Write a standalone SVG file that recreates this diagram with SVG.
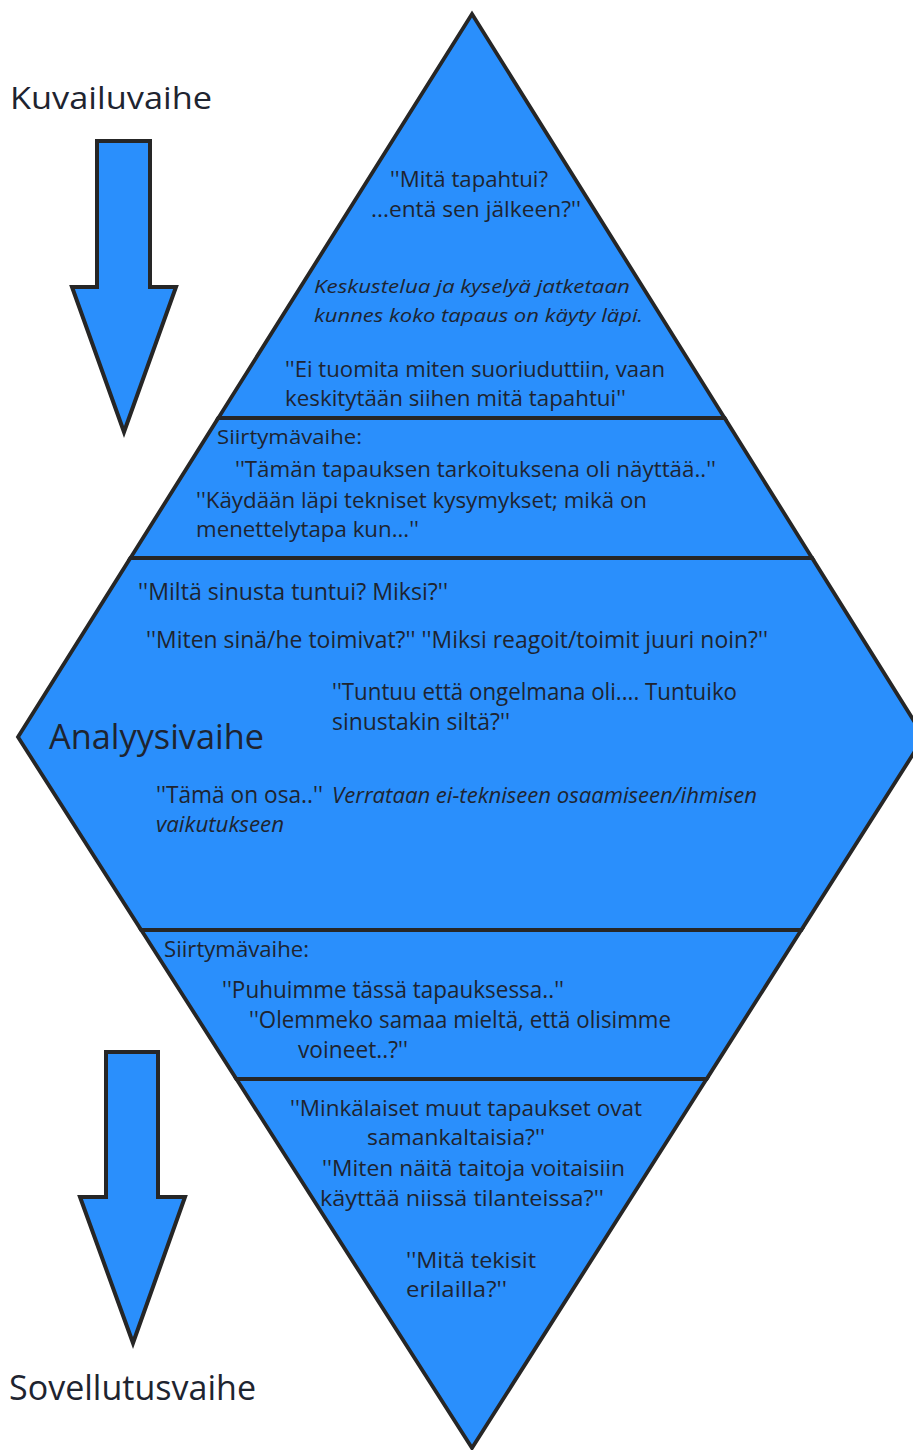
<svg xmlns="http://www.w3.org/2000/svg" width="913" height="1450" viewBox="0 0 913 1450">
  <style>
    .band { fill: #2a8ffc; stroke: #262626; stroke-width: 3.8; stroke-linejoin: miter; }
    .arrow { fill: #2a8ffc; stroke: #262626; stroke-width: 4; stroke-linejoin: miter; }
    text { font-family: "Open Sans", "DejaVu Sans", sans-serif; fill: #1e2430; }
    .q { font-size: 21px; }
    .q2 { font-size: 23px; }
    .q3 { font-size: 21.5px; }
    .it { font-size: 19px; font-style: italic; }
    .it2 { font-size: 21px; font-style: italic; }
    .lbl { font-size: 20px; }
    .lbl2 { font-size: 21px; }
    .big { font-size: 31px; }
    .big2 { font-size: 34px; }
  </style>
  <rect width="913" height="1450" fill="#ffffff"/>

  <!-- side arrows -->
  <g id="arrows">
    <polygon class="arrow" points="97,141 150,141 150,287 176,287 124,432 72,287 97,287"/>
    <polygon class="arrow" points="106,1052 158,1052 158,1197 185,1197 133,1343 80,1197 106,1197"/>
  </g>

  <!-- stage labels -->
  <g id="label-kuvailu"><text class="big" x="10" y="109" textLength="202" lengthAdjust="spacingAndGlyphs">Kuvailuvaihe</text></g>
  <g id="label-sovellutus"><text class="big2" x="9" y="1400" textLength="247" lengthAdjust="spacingAndGlyphs">Sovellutusvaihe</text></g>

  <!-- diamond bands -->
  <g id="band-description">
    <polygon class="band" points="472,14 724.6,418 218.3,418"/>
    <text class="q" x="390" y="187" textLength="158" lengthAdjust="spacingAndGlyphs">''Mitä tapahtui?</text>
    <text class="q" x="371" y="217" textLength="210" lengthAdjust="spacingAndGlyphs">...entä sen jälkeen?''</text>
    <text class="it" x="314" y="293" textLength="316" lengthAdjust="spacingAndGlyphs">Keskustelua ja kyselyä jatketaan</text>
    <text class="it" x="314" y="322" textLength="329" lengthAdjust="spacingAndGlyphs">kunnes koko tapaus on käyty läpi.</text>
    <text class="q" x="285" y="377" textLength="380" lengthAdjust="spacingAndGlyphs">''Ei tuomita miten suoriuduttiin, vaan</text>
    <text class="q" x="285" y="406" textLength="341" lengthAdjust="spacingAndGlyphs">keskitytään siihen mitä tapahtui''</text>
  </g>

  <g id="band-transition-1">
    <polygon class="band" points="218.3,418 724.6,418 812.1,558 130.4,558"/>
    <text class="lbl" x="217" y="444" textLength="145" lengthAdjust="spacingAndGlyphs">Siirtymävaihe:</text>
    <text class="q" x="235" y="477" textLength="481" lengthAdjust="spacingAndGlyphs">''Tämän tapauksen tarkoituksena oli näyttää..''</text>
    <text class="q" x="196" y="508" textLength="451" lengthAdjust="spacingAndGlyphs">''Käydään läpi tekniset kysymykset; mikä on</text>
    <text class="q" x="196" y="537" textLength="223" lengthAdjust="spacingAndGlyphs">menettelytapa kun...''</text>
  </g>

  <g id="band-analysis">
    <polygon class="band" points="130.4,558 812.1,558 924,737 801.3,930 141.2,930 18,737"/>
    <text class="q2" x="138" y="600" textLength="310" lengthAdjust="spacingAndGlyphs">''Miltä sinusta tuntui? Miksi?''</text>
    <text class="q2" x="146" y="648" textLength="622" lengthAdjust="spacingAndGlyphs">''Miten sinä/he toimivat?'' ''Miksi reagoit/toimit juuri noin?''</text>
    <text class="q2" x="332" y="700" textLength="405" lengthAdjust="spacingAndGlyphs">''Tuntuu että ongelmana oli.... Tuntuiko</text>
    <text class="q2" x="332" y="730" textLength="178" lengthAdjust="spacingAndGlyphs">sinustakin siltä?''</text>
    <text class="big2" x="49" y="749" textLength="215" lengthAdjust="spacingAndGlyphs">Analyysivaihe</text>
    <text class="q2" x="156" y="803" textLength="167" lengthAdjust="spacingAndGlyphs">''Tämä on osa..''</text>
    <text class="it2" x="332" y="803" textLength="425" lengthAdjust="spacingAndGlyphs">Verrataan ei-tekniseen osaamiseen/ihmisen</text>
    <text class="it2" x="156" y="832" textLength="128" lengthAdjust="spacingAndGlyphs">vaikutukseen</text>
  </g>

  <g id="band-transition-2">
    <polygon class="band" points="141.2,930 801.3,930 706.6,1079 236.4,1079"/>
    <text class="lbl2" x="164" y="957" textLength="145" lengthAdjust="spacingAndGlyphs">Siirtymävaihe:</text>
    <text class="q2" x="222" y="998" textLength="342" lengthAdjust="spacingAndGlyphs">''Puhuimme tässä tapauksessa..''</text>
    <text class="q2" x="249" y="1028" textLength="422" lengthAdjust="spacingAndGlyphs">''Olemmeko samaa mieltä, että olisimme</text>
    <text class="q2" x="298" y="1058" textLength="110" lengthAdjust="spacingAndGlyphs">voineet..?''</text>
  </g>

  <g id="band-application">
    <polygon class="band" points="236.4,1079 706.6,1079 472,1448"/>
    <text class="q3" x="290" y="1116" textLength="352" lengthAdjust="spacingAndGlyphs">''Minkälaiset muut tapaukset ovat</text>
    <text class="q3" x="367" y="1145" textLength="178" lengthAdjust="spacingAndGlyphs">samankaltaisia?''</text>
    <text class="q3" x="322" y="1176" textLength="303" lengthAdjust="spacingAndGlyphs">''Miten näitä taitoja voitaisiin</text>
    <text class="q3" x="320" y="1206" textLength="284" lengthAdjust="spacingAndGlyphs">käyttää niissä  tilanteissa?''</text>
    <text class="q3" x="406" y="1268" textLength="130" lengthAdjust="spacingAndGlyphs">''Mitä tekisit</text>
    <text class="q3" x="406" y="1297" textLength="101" lengthAdjust="spacingAndGlyphs">erilailla?''</text>
  </g>
</svg>
